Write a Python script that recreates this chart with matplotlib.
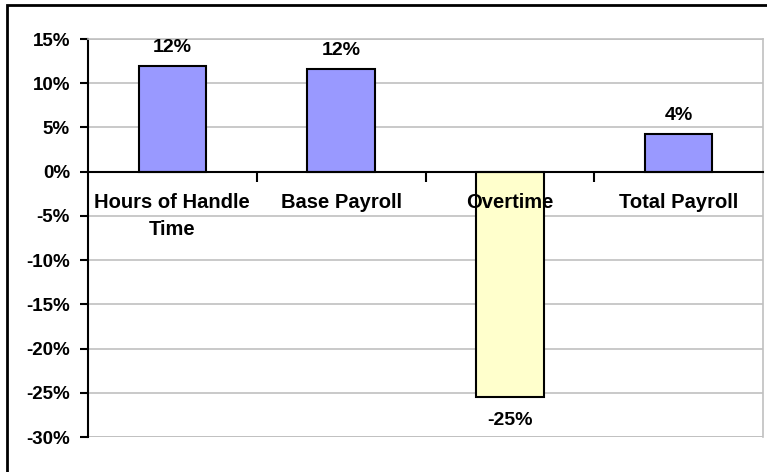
import matplotlib.pyplot as plt
import numpy as np
from matplotlib.patches import Rectangle
from matplotlib.ticker import FuncFormatter, FixedLocator

categories = ["Hours of Handle\nTime", "Base Payroll", "Overtime", "Total Payroll"]
values = [0.120, 0.116, -0.255, 0.043]
labels = ["12%", "12%", "-25%", "4%"]
bar_colors = ["#9999FF", "#9999FF", "#FFFFCC", "#9999FF"]

plt.rcParams['font.family'] = "Liberation Sans"
plt.rcParams['font.weight'] = "bold"

fig = plt.figure(figsize=(7.67, 4.72), dpi=100)
fig.set_facecolor("white")
ax = fig.add_axes([88 / 767, 1 - 437 / 472, (763 - 88) / 767, (437 - 39) / 472])

x = np.arange(len(categories))
ax.bar(x, values, width=0.4, color=bar_colors, edgecolor="black", linewidth=1.5, zorder=3)

ax.set_xlim(-0.5, len(categories) - 0.5)
ax.set_ylim(-0.30, 0.15)
ax.set_yticks(np.arange(-0.30, 0.151, 0.05))
ax.yaxis.set_major_formatter(FuncFormatter(lambda v, p: f"{round(v * 100):d}%"))
ax.grid(axis="y", color="#C0C0C0", linewidth=1.2, zorder=0)
ax.tick_params(axis="y", direction="out", length=6, width=1.5, pad=7, labelsize=13.5)

# ticks at the category boundaries, hanging below the zero line
ax.set_xticks([])
ax.xaxis.set_minor_locator(FixedLocator(np.arange(0.5, len(categories) - 0.5, 1.0)))
ax.tick_params(axis="x", which="minor", direction="out", length=7, width=1.5)
ax.spines["bottom"].set_position(("data", 0))
ax.spines["bottom"].set_linewidth(1.5)
ax.spines["bottom"].set_zorder(4)
ax.spines["left"].set_linewidth(1.5)
for s in ["top", "right"]:
    ax.spines[s].set_color("#C0C0C0")
    ax.spines[s].set_linewidth(1.2)
ax.axhline(-0.30, color="#C0C0C0", linewidth=1.2, zorder=0)

# category names drawn on top of the bars
for xi, cat in zip(x, categories):
    ax.annotate(cat, (xi, 0), xytext=(0, -15.5), textcoords="offset points",
                ha="center", va="top", fontsize=14.5, fontweight="bold",
                linespacing=1.55, zorder=5)

for xi, v, lab in zip(x, values, labels):
    off = 10 if v >= 0 else -20
    ax.annotate(lab, (xi, v), xytext=(0, off), textcoords="offset points",
                ha="center", va="baseline", fontsize=14, fontweight="bold")

# outer chart border
fig.patches.append(Rectangle((7 / 767, -0.02), 1.05, 1 - 5 / 472 + 0.02,
                             transform=fig.transFigure, fill=False,
                             edgecolor="black", linewidth=2))

fig.savefig("out.png", dpi=100)
